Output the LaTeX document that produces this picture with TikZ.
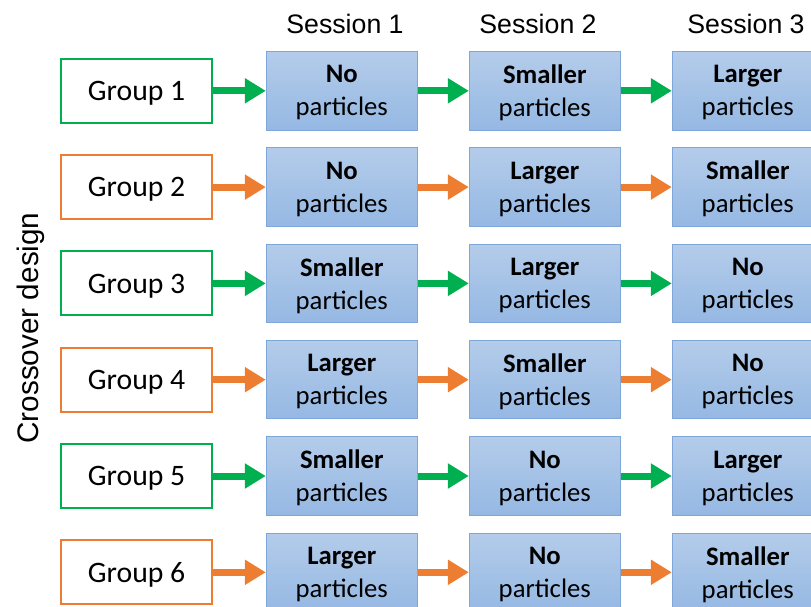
\documentclass[tikz,border=0pt]{standalone}
\usepackage{fontspec}
\setmainfont{Carlito}
\newfontfamily\arialfont{Liberation Sans}
\usetikzlibrary{arrows.meta,positioning}
\definecolor{cogreen}{HTML}{00B050}
\definecolor{coorange}{HTML}{ED7D31}
\definecolor{coblue}{HTML}{7EA6D8}
\definecolor{cotop}{HTML}{B4CCEA}
\definecolor{cobottom}{HTML}{95B8E3}
\tikzset{
  cogroup/.style={draw, line width=2pt, fill=white, minimum width=151pt, minimum height=64pt,
    inner sep=0pt, text depth=-1pt, font=\fontsize{29.7}{33}\selectfont},
  cogreenbox/.style={cogroup, draw=cogreen},
  coorangebox/.style={cogroup, draw=coorange},
  cosession/.style={draw=coblue, line width=1pt, top color=cotop, bottom color=cobottom,
    minimum width=151pt, minimum height=78.5pt, inner sep=0pt, align=center, text depth=-6pt,
    font=\fontsize{26.7}{33}\selectfont},
  cohead/.style={font=\arialfont\fontsize{26.7}{30}\selectfont, anchor=base},
  cogarrow/.style={-{Triangle[length=21pt,width=24pt]}, line width=7pt, draw=cogreen},
  cooarrow/.style={cogarrow, draw=coorange}
}

\begin{document}
\begin{tikzpicture}[x=1pt, y=-1pt, node distance=51pt]
\useasboundingbox (0,0) rectangle (811,607);
\clip (0,0) rectangle (811,607);
% groups and their three sessions
\node[cogreenbox] (g1) at (136.6,90.8) {Group 1};
\node[cosession, right=52.7pt of g1] (g1a) {\textbf{No}\\particles};
\node[cosession, right=of g1a] (g1b) {\textbf{Smaller}\\particles};
\node[cosession, right=of g1b] (g1c) {\textbf{Larger}\\particles};
\node[coorangebox] (g2) at (136.6,187.1) {Group 2};
\node[cosession, right=52.7pt of g2] (g2a) {\textbf{No}\\particles};
\node[cosession, right=of g2a] (g2b) {\textbf{Larger}\\particles};
\node[cosession, right=of g2b] (g2c) {\textbf{Smaller}\\particles};
\node[cogreenbox] (g3) at (136.6,283.4) {Group 3};
\node[cosession, right=52.7pt of g3] (g3a) {\textbf{Smaller}\\particles};
\node[cosession, right=of g3a] (g3b) {\textbf{Larger}\\particles};
\node[cosession, right=of g3b] (g3c) {\textbf{No}\\particles};
\node[coorangebox] (g4) at (136.6,379.7) {Group 4};
\node[cosession, right=52.7pt of g4] (g4a) {\textbf{Larger}\\particles};
\node[cosession, right=of g4a] (g4b) {\textbf{Smaller}\\particles};
\node[cosession, right=of g4b] (g4c) {\textbf{No}\\particles};
\node[cogreenbox] (g5) at (136.6,476.0) {Group 5};
\node[cosession, right=52.7pt of g5] (g5a) {\textbf{Smaller}\\particles};
\node[cosession, right=of g5a] (g5b) {\textbf{No}\\particles};
\node[cosession, right=of g5b] (g5c) {\textbf{Larger}\\particles};
\node[coorangebox] (g6) at (136.6,572.3) {Group 6};
\node[cosession, right=52.7pt of g6] (g6a) {\textbf{Larger}\\particles};
\node[cosession, right=of g6a] (g6b) {\textbf{No}\\particles};
\node[cosession, right=of g6b] (g6c) {\textbf{Smaller}\\particles};
% arrows
\draw[cogarrow] (g1) -- (g1a);
\draw[cogarrow] (g1a) -- (g1b);
\draw[cogarrow] (g1b) -- (g1c);
\draw[cooarrow] (g2) -- (g2a);
\draw[cooarrow] (g2a) -- (g2b);
\draw[cooarrow] (g2b) -- (g2c);
\draw[cogarrow] (g3) -- (g3a);
\draw[cogarrow] (g3a) -- (g3b);
\draw[cogarrow] (g3b) -- (g3c);
\draw[cooarrow] (g4) -- (g4a);
\draw[cooarrow] (g4a) -- (g4b);
\draw[cooarrow] (g4b) -- (g4c);
\draw[cogarrow] (g5) -- (g5a);
\draw[cogarrow] (g5a) -- (g5b);
\draw[cogarrow] (g5b) -- (g5c);
\draw[cooarrow] (g6) -- (g6a);
\draw[cooarrow] (g6a) -- (g6b);
\draw[cooarrow] (g6b) -- (g6c);
% headings
\node[cohead] (s1) at (345,34) {Session 1};
\node[cohead] (s2) at (538,34) {Session 2};
\node[cohead] (s3) at (746,34) {Session 3};
\node[font=\arialfont\fontsize{29.7}{33}\selectfont, rotate=90, anchor=base] (design) at (38.3,328) {Crossover design};
\end{tikzpicture}
\end{document}
